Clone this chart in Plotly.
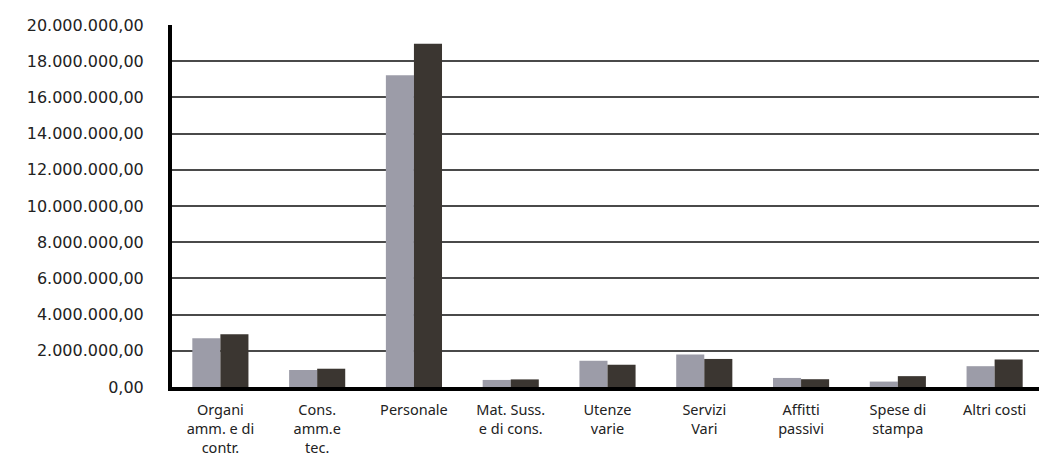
import plotly.graph_objects as go

categories = ["Organi<br>amm. e di<br>contr.", "Cons.<br>amm.e<br>tec.", "Personale",
              "Mat. Suss.<br>e di cons.", "Utenze<br>varie", "Servizi<br>Vari",
              "Affitti<br>passivi", "Spese di<br>stampa", "Altri costi"]
series_a = [2690000, 940000, 17230000, 390000, 1450000, 1800000, 500000, 300000, 1150000]
series_b = [2910000, 1010000, 18960000, 420000, 1230000, 1550000, 430000, 600000, 1520000]
tick_vals = [0, 2000000, 4000000, 6000000, 8000000, 10000000, 12000000, 14000000, 16000000, 18000000, 20000000]
tick_text = ["0,00", "2.000.000,00", "4.000.000,00", "6.000.000,00", "8.000.000,00",
             "10.000.000,00", "12.000.000,00", "14.000.000,00", "16.000.000,00",
             "18.000.000,00", "20.000.000,00"]

fig = go.Figure()
fig.add_trace(go.Bar(x=categories, y=series_a, marker=dict(color="#9c9ca8", line=dict(width=0))))
fig.add_trace(go.Bar(x=categories, y=series_b, marker=dict(color="#3b3631", line=dict(width=0))))

fig.update_layout(
    width=1039, height=453,
    margin=dict(l=164, r=4, t=17, b=74),
    barmode="group", bargap=0.42, bargroupgap=0,
    showlegend=False,
    plot_bgcolor="white", paper_bgcolor="white",
    font=dict(family="Noto Sans", size=14, color="#222222"),
)
fig.update_yaxes(range=[0, 20000000], tickvals=tick_vals, ticktext=tick_text,
                 showgrid=True, gridcolor="#4a4a4a", gridwidth=1.5,
                 showline=True, linecolor="black", linewidth=4,
                 zeroline=False, ticklabelstandoff=21,
                 tickfont=dict(family="DejaVu Sans", size=16, color="#222222"))
fig.update_xaxes(showline=True, linecolor="black", linewidth=4,
                 showgrid=False, ticklabelstandoff=7,
                 tickfont=dict(family="Noto Sans", size=14.5, color="#222222"))

fig.write_html("out.html")
